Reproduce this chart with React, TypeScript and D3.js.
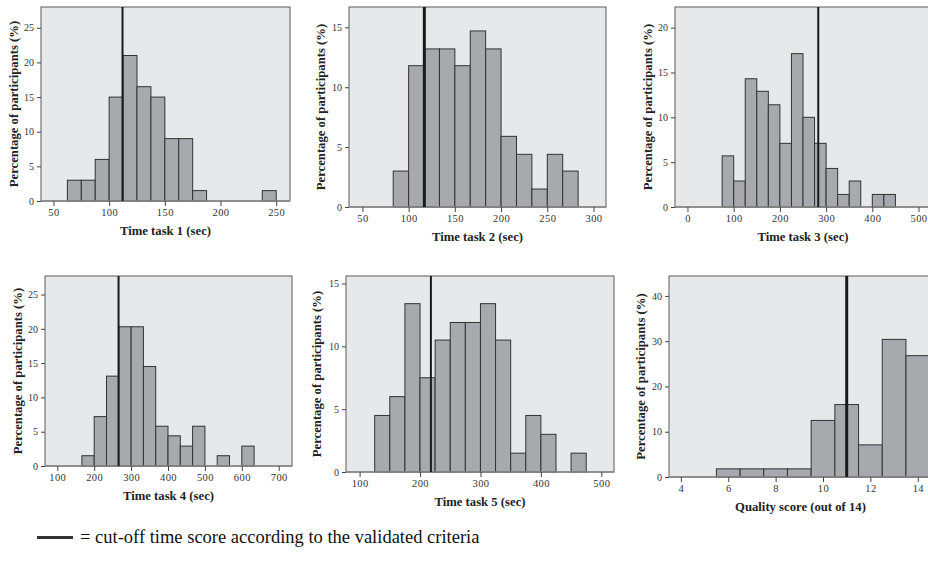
import React, { useEffect, useRef } from "react";
import { select, scaleLinear, axisLeft, axisBottom } from "d3";

// percentages per histogram bin
const task1Pct = [3, 3, 6, 15, 21, 16.5, 15, 9, 9, 1.5, 0, 0, 0, 0, 1.5];
const task2Pct = [3, 11.8, 13.2, 13.2, 11.8, 14.7, 13.2, 5.9, 4.4, 1.5, 4.4, 3];
const task3Pct = [5.7, 2.9, 14.3, 12.9, 11.4, 7.1, 17.1, 10, 7.1, 4.3, 1.4, 2.9, 0, 1.4, 1.4];
const task4Pct = [1.5, 7.2, 13.1, 20.3, 20.3, 14.5, 5.8, 4.4, 2.9, 5.8, 0, 1.5, 0, 2.9];
const task5Pct = [4.5, 6, 13.4, 7.5, 10.5, 11.9, 11.9, 13.4, 10.5, 1.5, 4.5, 3, 0, 1.5];
const qualityPct = [1.8, 1.8, 1.8, 1.8, 12.5, 16, 7.1, 30.4, 26.8];

const binStarts = [62.5, 83.333, 75, 166.667, 125, 5.5];
const binWidths = [12.5, 16.667, 25, 33.333, 25, 1];
const cutoffs = [112, 117, 283, 266, 218, 11];

const xLabels = [
  "Time task 1 (sec)",
  "Time task 2 (sec)",
  "Time task 3 (sec)",
  "Time task 4 (sec)",
  "Time task 5 (sec)",
  "Quality score (out of 14)",
];
const yLabel = "Percentage of participants (%)";
const legendText = "= cut-off time score according to the validated criteria";

const xTicks = [
  [50, 100, 150, 200, 250],
  [50, 100, 150, 200, 250, 300],
  [0, 100, 200, 300, 400, 500],
  [100, 200, 300, 400, 500, 600, 700],
  [100, 200, 300, 400, 500],
  [4, 6, 8, 10, 12, 14],
];
const yTicks = [
  [0, 5, 10, 15, 20, 25],
  [0, 5, 10, 15],
  [0, 5, 10, 15, 20],
  [0, 5, 10, 15, 20, 25],
  [0, 5, 10, 15],
  [0, 10, 20, 30, 40],
];

const xDomains = [
  [38.8, 262.4],
  [35.5, 313.5],
  [-27, 527],
  [66.7, 736],
  [77.5, 521],
  [3.5, 14.6],
];
const yDomains = [
  [0, 28],
  [0, 16.7],
  [0, 22.3],
  [0, 27.7],
  [0, 15.6],
  [0, 44.4],
];

const allPct = [task1Pct, task2Pct, task3Pct, task4Pct, task5Pct, qualityPct];

// plot frames in pixels
const frames = [
  { left: 41, right: 290, top: 7, bottom: 201, labelX: 13 },
  { left: 349, right: 606, top: 7, bottom: 207, labelX: 320 },
  { left: 675, right: 931, top: 7, bottom: 207, labelX: 647 },
  { left: 45, right: 292, top: 276, bottom: 466, labelX: 17 },
  { left: 346, right: 614, top: 276, bottom: 472, labelX: 316 },
  { left: 669, right: 932, top: 276, bottom: 477, labelX: 640 },
];
const cutoffWidths = [2, 3, 2, 2, 2, 3];

const serif = "'Liberation Serif', 'Times New Roman', serif";

const App = () => {
  const ref = useRef<SVGSVGElement>(null);

  useEffect(() => {
    const svg = select(ref.current);
    svg.selectAll("*").remove();

    frames.forEach((f, i) => {
      const x = scaleLinear().domain(xDomains[i]).range([f.left, f.right]);
      const y = scaleLinear().domain(yDomains[i]).range([f.bottom, f.top]);
      const g = svg.append("g");

      g.append("rect")
        .attr("x", f.left)
        .attr("y", f.top)
        .attr("width", f.right - f.left)
        .attr("height", f.bottom - f.top)
        .attr("fill", "#e7e8ea")
        .attr("stroke", "#5a5a5a")
        .attr("stroke-width", 1);

      const data = allPct[i].map((v, k) => ({
        x0: binStarts[i] + k * binWidths[i],
        x1: binStarts[i] + (k + 1) * binWidths[i],
        v,
      }));

      g.selectAll("rect.bar")
        .data(data.filter((d) => d.v > 0))
        .join("rect")
        .attr("class", "bar")
        .attr("x", (d) => x(d.x0))
        .attr("y", (d) => y(d.v))
        .attr("width", (d) => x(d.x1) - x(d.x0))
        .attr("height", (d) => y(0) - y(d.v))
        .attr("fill", "#a8a9ad")
        .attr("stroke", "#333")
        .attr("stroke-width", 1);

      // bottom axis line
      g.append("line")
        .attr("x1", f.left)
        .attr("x2", f.right)
        .attr("y1", f.bottom)
        .attr("y2", f.bottom)
        .attr("stroke", "#888")
        .attr("stroke-width", 1.6);

      g.append("line")
        .attr("x1", x(cutoffs[i]))
        .attr("x2", x(cutoffs[i]))
        .attr("y1", f.top)
        .attr("y2", f.bottom)
        .attr("stroke", "#1a1a1a")
        .attr("stroke-width", cutoffWidths[i]);

      const xa = g
        .append("g")
        .attr("transform", `translate(0,${f.bottom})`)
        .call(axisBottom(x).tickValues(xTicks[i]).tickSize(5).tickPadding(3).tickFormat((d) => `${d}`));
      xa.select(".domain").remove();
      xa.selectAll("line").attr("stroke", "#444");
      xa.selectAll("text")
        .attr("fill", "#333")
        .style("font-family", serif)
        .style("font-size", "10.5px")
        .style("letter-spacing", "0.4px");

      const ya = g
        .append("g")
        .attr("transform", `translate(${f.left},0)`)
        .call(axisLeft(y).tickValues(yTicks[i]).tickSize(4).tickPadding(3).tickFormat((d) => `${d}`));
      ya.select(".domain").remove();
      ya.selectAll("line").attr("stroke", "#444");
      ya.selectAll("text")
        .attr("fill", "#333")
        .style("font-family", serif)
        .style("font-size", "10px");

      g.append("text")
        .attr("x", (f.left + f.right) / 2)
        .attr("y", f.bottom + 34)
        .attr("text-anchor", "middle")
        .attr("fill", "#222")
        .style("font-family", serif)
        .style("font-weight", "bold")
        .style("font-size", "12.7px")
        .text(xLabels[i]);

      g.append("text")
        .attr(
          "transform",
          `translate(${f.labelX + 4.5},${(f.top + f.bottom) / 2}) rotate(-90)`
        )
        .attr("text-anchor", "middle")
        .attr("fill", "#222")
        .style("font-family", serif)
        .style("font-weight", "bold")
        .style("font-size", "12.7px")
        .text(yLabel);
    });

    // legend
    svg
      .append("line")
      .attr("x1", 37)
      .attr("x2", 73)
      .attr("y1", 537.5)
      .attr("y2", 537.5)
      .attr("stroke", "#333")
      .attr("stroke-width", 3);
    svg
      .append("text")
      .attr("x", 80)
      .attr("y", 543)
      .attr("fill", "#111")
      .style("font-family", serif)
      .style("font-size", "18.5px")
      .text(legendText);
  }, []);

  return (
    <svg
      ref={ref}
      width={928}
      height={565}
      style={{ position: "absolute", left: 0, top: 0, background: "#fff" }}
    ></svg>
  );
};

export default App;
